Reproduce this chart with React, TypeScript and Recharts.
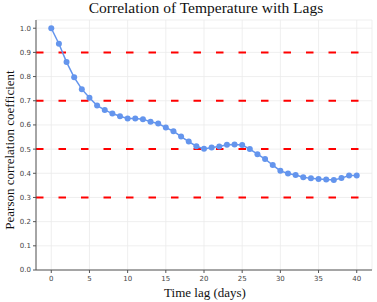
import React from "react";
import {
  LineChart,
  Line,
  XAxis,
  YAxis,
  CartesianGrid,
  ReferenceLine,
  Customized,
} from "recharts";

const lags: number[] = Array.from({ length: 41 }, (_, i) => i);
const correlations: number[] = [
  1.0, 0.936, 0.86, 0.797, 0.748, 0.712, 0.68, 0.662, 0.647, 0.636,
  0.627, 0.627, 0.624, 0.613, 0.606, 0.589, 0.574, 0.552, 0.531, 0.512,
  0.501, 0.507, 0.511, 0.518, 0.519, 0.517, 0.5, 0.479, 0.459, 0.434,
  0.41, 0.399, 0.393, 0.384, 0.379, 0.376, 0.374, 0.372, 0.38, 0.391,
  0.391,
];
const thresholds: number[] = [0.3, 0.5, 0.7, 0.9];
const xTicks: number[] = [0, 5, 10, 15, 20, 25, 30, 35, 40];
const yTicks: number[] = [0, 0.1, 0.2, 0.3, 0.4, 0.5, 0.6, 0.7, 0.8, 0.9, 1.0];

const title = "Correlation of Temperature with Lags";
const xLabel = "Time lag (days)";
const yLabel = "Pearson correlation coefficient";

const data = lags.map((lag, i) => ({ lag, corr: correlations[i] }));

const W = 377;
const H = 302;
const serif = "'Liberation Serif', 'Times New Roman', serif";
const sans = "'DejaVu Sans', sans-serif";
const tickStyle = { fontSize: 7, fontFamily: sans, fill: "#444" };

const Texts = () => (
  <g>
    <text x={206} y={13} textAnchor="middle" fontFamily={serif} fontSize={15.5} fill="#111">
      {title}
    </text>
    <text x={205} y={297} textAnchor="middle" fontFamily={serif} fontSize={13} fill="#111">
      {xLabel}
    </text>
    <text
      x={14}
      y={150}
      textAnchor="middle"
      fontFamily={serif}
      fontSize={13}
      fill="#111"
      transform="rotate(-90 14 150)"
    >
      {yLabel}
    </text>
  </g>
);

export default function App() {
  return (
    <div style={{ position: "fixed", left: 0, top: 0, width: W, height: H, background: "#fff" }}>
      <LineChart
        width={W}
        height={H}
        data={data}
        margin={{ top: 20, right: 5, bottom: 0, left: 0 }}
      >
        <CartesianGrid stroke="#ebebeb" strokeWidth={0.8} />
        <XAxis
          dataKey="lag"
          type="number"
          domain={[-2, 42]}
          ticks={xTicks}
          height={32}
          tickSize={3}
          tickMargin={3}
          tick={tickStyle}
          stroke="#555"
          allowDataOverflow
        />
        <XAxis
          xAxisId="top"
          orientation="top"
          dataKey="lag"
          type="number"
          domain={[-2, 42]}
          height={0}
          tick={false}
          tickLine={false}
          stroke="#555"
        />
        <YAxis
          type="number"
          domain={[0, 1.034]}
          ticks={yTicks}
          width={36}
          tickSize={3}
          tickMargin={2}
          tick={tickStyle}
          tickFormatter={(v: number) => v.toFixed(1)}
          stroke="#555"
          allowDataOverflow
        />
        <YAxis
          yAxisId="right"
          orientation="right"
          type="number"
          domain={[0, 1.034]}
          width={0}
          tick={false}
          tickLine={false}
          stroke="#555"
        />
        {thresholds.map((t) => (
          <ReferenceLine
            key={t}
            y={t}
            stroke="#ff0000"
            strokeWidth={2}
            strokeDasharray="7.5 15"
          />
        ))}
        <Line
          type="linear"
          dataKey="corr"
          stroke="#6495ED"
          strokeWidth={1.5}
          dot={{ r: 3, fill: "#6495ED", stroke: "#6495ED", strokeWidth: 0 }}
          isAnimationActive={false}
        />
        <Customized component={Texts} />
      </LineChart>
    </div>
  );
}
